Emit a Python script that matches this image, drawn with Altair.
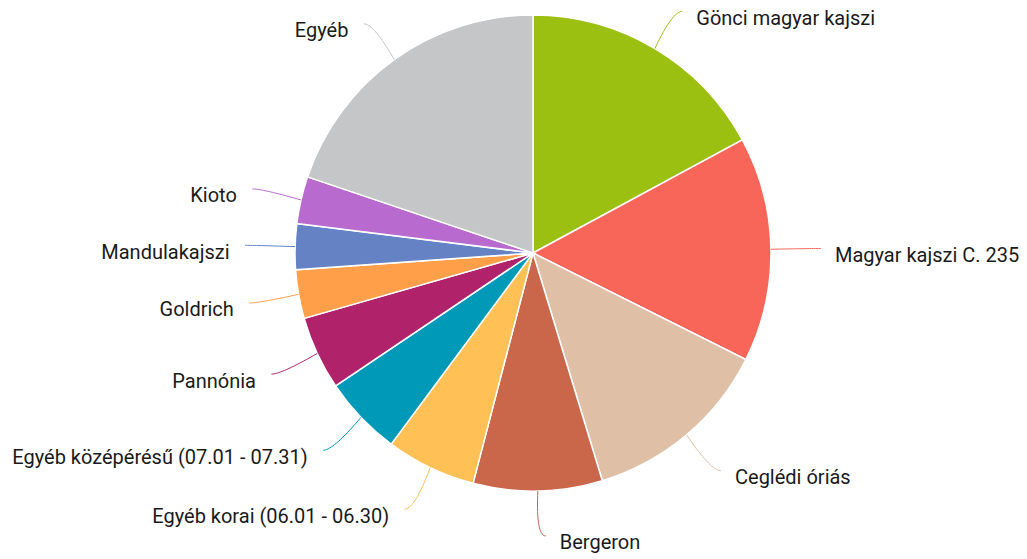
import numpy as np
import pandas as pd
import altair as alt

# ---- data ----
categories = [
    "Gönci magyar kajszi", "Magyar kajszi C. 235", "Ceglédi óriás", "Bergeron",
    "Egyéb korai (06.01 - 06.30)", "Egyéb középérésű (07.01 - 07.31)", "Pannónia",
    "Goldrich", "Mandulakajszi", "Kioto", "Egyéb",
]
values = [17.1, 15.25, 12.9, 8.75, 6.1, 5.4, 5.0, 3.3, 3.1, 3.2, 19.8]
colors = ["#9BC011", "#F8665A", "#DFC0A7", "#CA664A", "#FFC055", "#009AB8",
          "#B0226A", "#FF9F4A", "#6583C4", "#B96ACE", "#C5C6C8"]

# ---- layout ----
PAD_TOP = 9
W, H = 1011, 540
CX, CY = 525, 245 - PAD_TOP
R = 238
LABEL_GAP = 14
LABEL_DY = 7.5
FONT_SIZE = 20

df = pd.DataFrame({"cat": categories, "val": values, "idx": range(len(values))})
tot = df["val"].sum()
cum = df["val"].cumsum()
mid = (cum - df["val"] / 2) / tot * 2 * np.pi
c = np.cos(mid)
s = np.sin(mid)
r_end = np.where(c > 0, 288 - 9 * c ** 2, 288 - 5 * c ** 2)
side = np.where(s >= 0, 1, -1)
df["sx"] = CX + R * s
df["sy"] = CY - R * c
df["ex"] = CX + r_end * s + side * 7 * c ** 2
df["ey"] = CY - r_end * c
df["dir"] = side
df["lx"] = df["ex"] + side * np.where(side > 0, LABEL_GAP, LABEL_GAP + 1.5)
df["ly"] = df["ey"] + LABEL_DY

# connector curves (quadratic bezier, horizontal at end)
rows = []
for i in range(len(df)):
    r = df.iloc[i]
    p0 = np.array([r["sx"], r["sy"]])
    p2 = np.array([r["ex"], r["ey"]])
    p1 = np.array([r["ex"] - r["dir"] * 10, r["ey"]])
    for k, t in enumerate(np.linspace(0, 1, 20)):
        p = (1 - t) ** 2 * p0 + 2 * (1 - t) * t * p1 + t ** 2 * p2
        rows.append({"cat": r["cat"], "k": k, "x": p[0], "y": p[1]})
lines = pd.DataFrame(rows)

color = alt.Color("cat:N", scale=alt.Scale(domain=categories, range=colors), legend=None)
xs = alt.Scale(domain=[0, W], nice=False, zero=False)
ys = alt.Scale(domain=[0, H], nice=False, zero=False, reverse=True)

pie = alt.Chart(df).mark_arc(outerRadius=R, stroke="white", strokeWidth=1.5).encode(
    theta=alt.Theta("val:Q", stack=True),
    order=alt.Order("idx:Q"),
    color=color,
    x=alt.value(CX), y=alt.value(CY),
)

conn = alt.Chart(lines).mark_line(strokeWidth=1).encode(
    x=alt.X("x:Q", scale=xs, axis=None),
    y=alt.Y("y:Q", scale=ys, axis=None),
    detail="cat:N",
    order="k:Q",
    color=color,
)

txt_r = alt.Chart(df[df["dir"] > 0]).mark_text(
    align="left", baseline="middle", font="Roboto", fontSize=FONT_SIZE, color="#1a1a1a"
).encode(x=alt.X("lx:Q", scale=xs, axis=None), y=alt.Y("ly:Q", scale=ys, axis=None), text="cat:N")

txt_l = alt.Chart(df[df["dir"] < 0]).mark_text(
    align="right", baseline="middle", font="Roboto", fontSize=FONT_SIZE, color="#1a1a1a"
).encode(x=alt.X("lx:Q", scale=xs, axis=None), y=alt.Y("ly:Q", scale=ys, axis=None), text="cat:N")

chart = alt.layer(pie, conn, txt_r, txt_l).properties(
    width=W, height=H,
    padding={"top": PAD_TOP, "left": 0, "right": 0, "bottom": 0},
    autosize=alt.AutoSizeParams(type="none"),
).configure_view(stroke=None)

chart.save("out.html", embed_options={"renderer": "svg", "actions": False})
